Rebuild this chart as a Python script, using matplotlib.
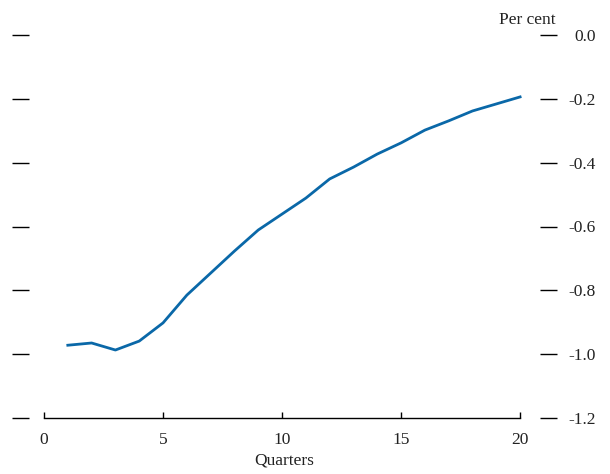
import matplotlib
matplotlib.use('Agg')

import matplotlib.pyplot as plt

# data
quarters = list(range(1, 21))
values = [-0.972, -0.965, -0.987, -0.959, -0.902, -0.815, -0.746, -0.677, -0.611, -0.561,
          -0.511, -0.451, -0.414, -0.373, -0.338, -0.298, -0.269, -0.238, -0.216, -0.194]

x_ticks = [0, 5, 10, 15, 20]
y_ticks = [0.0, -0.2, -0.4, -0.6, -0.8, -1.0, -1.2]

plt.rcParams['font.family'] = ['Liberation Serif', 'DejaVu Serif']

fig = plt.figure(figsize=(6.1, 4.74), dpi=100)
ax = fig.add_axes([12 / 610, 1 - 418 / 474, 545 / 610, 383 / 474])

ax.plot(quarters, values, color='#0a68a8', linewidth=2.0, solid_joinstyle='round')

ax.set_xlim(-1.345, 21.55)
ax.set_ylim(-1.2, 0.0)

# spines
for s in ['top', 'left', 'right']:
    ax.spines[s].set_visible(False)
ax.spines['bottom'].set_bounds(0, 20)
ax.spines['bottom'].set_linewidth(1.0)

ax.set_xticks(x_ticks)
ax.set_xticklabels([str(t) for t in x_ticks])
ax.tick_params(axis='x', direction='in', length=4.3, width=1.0, pad=10,
               labelsize=12.5, labelcolor='#222222', color='black')

ax.set_yticks(y_ticks)
ax.set_yticklabels([f'{t:.1f}' for t in y_ticks], ha='right')
ax.tick_params(axis='y', direction='in', length=12, width=1.0,
               left=True, right=True, labelleft=False, labelright=True,
               pad=28, labelsize=12.5, labelcolor='#222222', color='black')

ax.set_xlabel('Quarters', fontsize=12.5, labelpad=3, color='#222222')
ax.text(0.998, 1.018, 'Per cent', transform=ax.transAxes, ha='right', va='bottom',
        fontsize=12.5, color='#222222')

fig.savefig('out.png', dpi=100)
